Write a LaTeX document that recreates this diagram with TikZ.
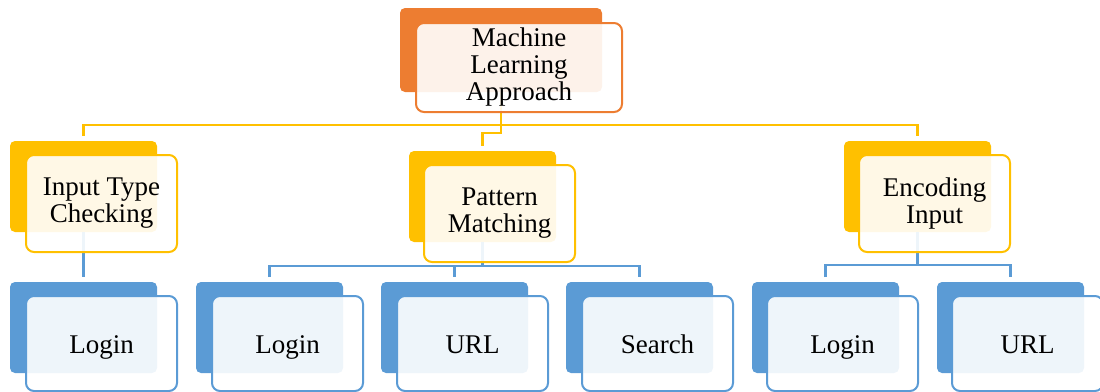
\documentclass[tikz,border=0pt]{standalone}
\usepackage{fontspec}
\setmainfont{Liberation Serif}
\usetikzlibrary{calc}
\definecolor{mlorange}{HTML}{ED7D31}
\definecolor{mlyellow}{HTML}{FFC000}
\definecolor{mlblue}{HTML}{5B9BD5}
\tikzset{
  backbox/.style={rectangle, rounded corners=5pt, fill=#1, draw=none, anchor=north west,
    minimum width=147pt, minimum height=91pt, inner sep=0pt, outer sep=0pt},
  frontbox/.style={rectangle, rounded corners=8pt, draw=#1, line width=2pt, fill=white,
    fill opacity=0.9, text opacity=1, text=black, anchor=north west, align=center,
    minimum width=151pt, minimum height=97pt, inner sep=0pt,
    font=\fontsize{27}{27}\selectfont},
  leafbox/.style={frontbox=mlblue, minimum height=95pt, text height=19pt, text depth=0pt},
  yline/.style={draw=mlyellow, line width=2.5pt},
  bline/.style={draw=mlblue, line width=2.5pt},
}
\begin{document}
\begin{tikzpicture}[x=1pt, y=-1pt]
\useasboundingbox (0,0) rectangle (1100,391);
% back boxes
\node[backbox=mlorange, minimum width=202pt, minimum height=84pt] (mlB) at (400,8) {};
\node[backbox=mlyellow] (itB) at (10,141) {};
\node[backbox=mlyellow] (pmB) at (409,151) {};
\node[backbox=mlyellow] (eiB) at (844,141) {};
\node[backbox=mlblue] (l1B) at (10,282) {};
\node[backbox=mlblue] (l2B) at (196,282) {};
\node[backbox=mlblue] (u1B) at (381,282) {};
\node[backbox=mlblue] (srB) at (566,282) {};
\node[backbox=mlblue] (l3B) at (752,282) {};
\node[backbox=mlblue] (u2B) at (937,282) {};
% connectors
\coordinate (hub) at (500,125);
\draw[yline] ([yshift=5pt]itB.north) |- (hub) -| ([yshift=5pt]eiB.north);
\draw[yline] (mlB.south) -- ++(0,41) -| ([yshift=5pt]pmB.north);
\draw[bline] (itB.south) -- ([yshift=5pt]l1B.north);
\coordinate (pmhub) at (482.5,266);
\draw[bline] (pmB.south) -- (pmhub);
\draw[bline] ([yshift=5pt]l2B.north) |- (pmhub) -| ([yshift=5pt]srB.north);
\draw[bline] (pmhub) -| ([yshift=5pt]u1B.north);
\coordinate (eihub) at (917.5,265);
\draw[bline] ([yshift=5pt]l3B.north) |- (eihub) -| ([yshift=5pt]u2B.north);
\draw[bline] (eiB.south) -- (eihub);
% front boxes
\node[frontbox=mlorange, minimum width=206pt, minimum height=89pt] (ml) at (415,22) {Machine\\Learning\\Approach};
\node[frontbox=mlyellow] (it) at (25,154) {Input Type\\Checking};
\node[frontbox=mlyellow] (pm) at (423,164) {Pattern\\Matching};
\node[frontbox=mlyellow] (ei) at (858,154) {Encoding\\Input};
\node[leafbox] (l1) at (25,295) {Login};
\node[leafbox] (l2) at (211,295) {Login};
\node[leafbox] (u1) at (396,295) {URL};
\node[leafbox] (sr) at (581,295) {Search};
\node[leafbox] (l3) at (766,295) {Login};
\node[leafbox] (u2) at (951,295) {URL};
\end{tikzpicture}
\end{document}
